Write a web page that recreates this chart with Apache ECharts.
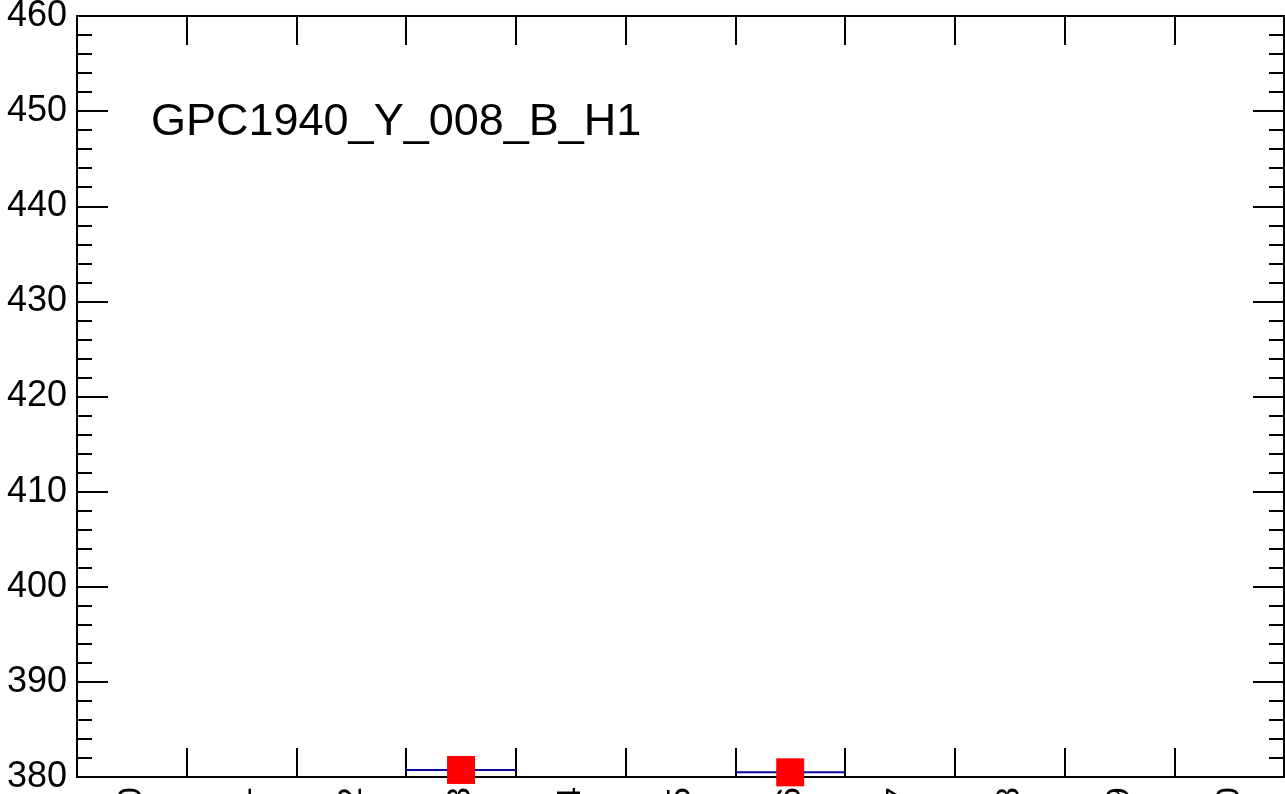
<!DOCTYPE html>
<html>
<head>
<meta charset="utf-8">
<script src="https://cdn.jsdelivr.net/npm/echarts@6/dist/echarts.min.js"></script>
<style>
html,body{margin:0;padding:0;background:#fff;}
#chart{width:1285px;height:794px;}
</style>
</head>
<body>
<div id="chart"></div>
<script>
// Data
const categories = ["0","1","2","3","4","5","6","7","8","9","10"];
const values = [null, null, null, 380.74, null, null, 380.49, null, null, null, null];
const yTicks = { min: 380, max: 460, interval: 10 };
const title = "GPC1940_Y_008_B_H1";

const FONT = "Liberation Sans, Arial, sans-serif";
const chart = echarts.init(document.getElementById('chart'), null, {renderer: 'canvas'});

const pts = [];
values.forEach((v, i) => { if (v !== null) pts.push([i, v]); });

const axisLineStyle = {color: '#000', width: 2};

chart.setOption({
  animation: false,
  backgroundColor: '#fff',
  grid: {left: 77, right: 1, top: 16, bottom: 17, containLabel: false, outerBoundsMode: 'none'},
  xAxis: [
    {
      type: 'category', data: categories, position: 'bottom', boundaryGap: true,
      axisLine: {show: true, onZero: false, lineStyle: axisLineStyle},
      axisTick: {show: true, inside: true, length: 29, interval: 0, lineStyle: {color: '#000', width: 2}},
      axisLabel: {show: true, rotate: 90, margin: 10, interval: 0, fontSize: 34, fontFamily: FONT, color: '#000', hideOverlap: false},
      splitLine: {show: false}
    },
    {
      type: 'category', data: categories, position: 'top', boundaryGap: true,
      axisLine: {show: true, onZero: false, lineStyle: axisLineStyle},
      axisTick: {show: true, inside: true, length: 29, interval: 0, lineStyle: {color: '#000', width: 2}},
      axisLabel: {show: false},
      splitLine: {show: false}
    }
  ],
  yAxis: [
    {
      type: 'value', position: 'left', min: yTicks.min, max: yTicks.max, interval: yTicks.interval,
      axisLine: {show: true, onZero: false, lineStyle: axisLineStyle},
      axisTick: {show: true, inside: true, length: 31, lineStyle: {color: '#000', width: 2}},
      minorTick: {show: true, splitNumber: 5, length: 15, lineStyle: {color: '#000', width: 2}},
      axisLabel: {show: true, margin: 10, fontSize: 36, fontFamily: FONT, color: '#000', hideOverlap: false},
      splitLine: {show: false}, minorSplitLine: {show: false}
    },
    {
      type: 'value', position: 'right', min: yTicks.min, max: yTicks.max, interval: yTicks.interval,
      axisLine: {show: true, onZero: false, lineStyle: axisLineStyle},
      axisTick: {show: true, inside: true, length: 31, lineStyle: {color: '#000', width: 2}},
      minorTick: {show: true, splitNumber: 5, length: 15, lineStyle: {color: '#000', width: 2}},
      axisLabel: {show: false},
      splitLine: {show: false}, minorSplitLine: {show: false}
    }
  ],
  graphic: [{
    type: 'text', left: 151, top: 100, z: 100,
    style: {text: title, font: '45px ' + FONT, fill: '#000'}
  }],
  series: [
    {
      type: 'custom', xAxisIndex: 0, yAxisIndex: 0, clip: false, z: 2,
      data: pts,
      renderItem: function (params, api) {
        const c = api.coord([api.value(0), api.value(1)]);
        const w = api.size([1, 0])[0];
        return {
          type: 'line',
          shape: {x1: c[0] - w / 2, y1: c[1], x2: c[0] + w / 2, y2: c[1]},
          style: {stroke: '#0a0aa0', lineWidth: 2}
        };
      }
    },
    {
      type: 'scatter', xAxisIndex: 0, yAxisIndex: 0, clip: false, z: 3,
      symbol: 'rect', symbolSize: 28,
      itemStyle: {color: '#ff0000', opacity: 1},
      data: pts
    }
  ]
});
</script>
</body>
</html>
